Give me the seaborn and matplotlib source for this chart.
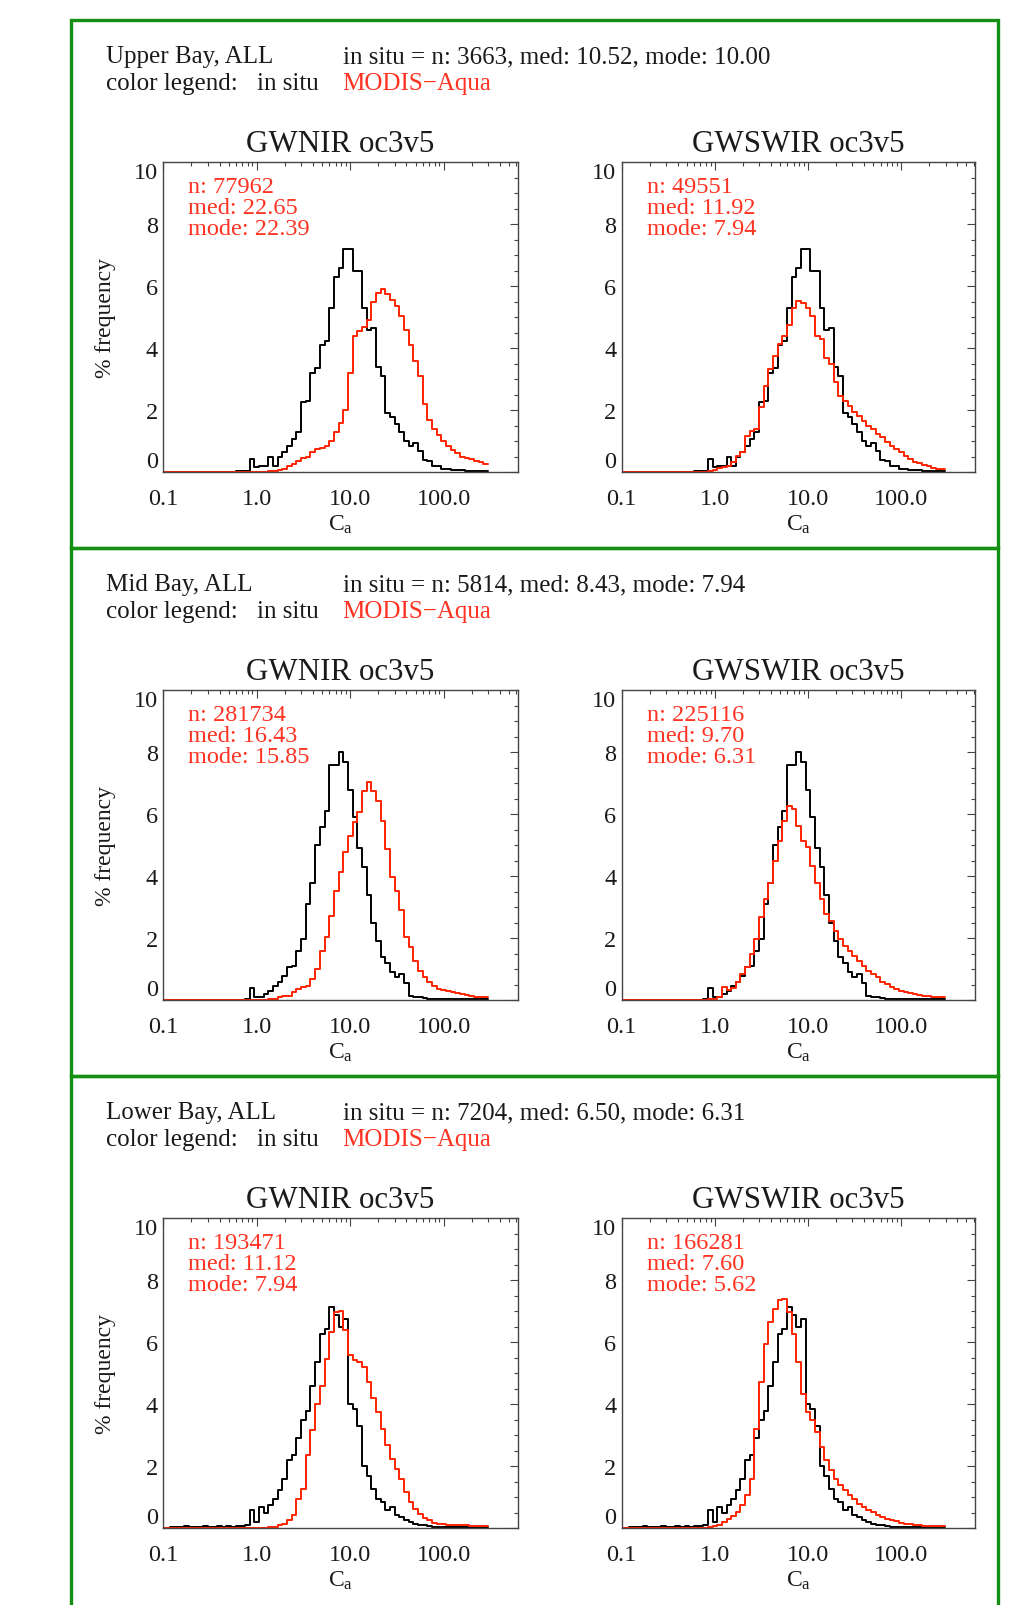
import numpy as np
import matplotlib
matplotlib.use("Agg")
import matplotlib.pyplot as plt
import seaborn as sns
from matplotlib.patches import Rectangle
from matplotlib.ticker import FixedLocator, MultipleLocator, LogLocator, NullFormatter

# ======================
# DATA  (% frequency per 0.05 log10 bin of Ca)
# ======================
log_c = np.round(np.arange(-1.0, 2.4501, 0.05), 2)   # bin centres, log10(Ca)

upper_insitu = [
    0, 0, 0, 0, 0, 0, 0, 0, 0, 0, 0, 0, 0, 0, 0, 0, 0.03, 0.05, 0.05, 0.43,
    0.16, 0.2, 0.2, 0.48, 0.2, 0.5, 0.65, 0.86, 1.07, 1.3, 2.26, 2.3, 3.2, 3.35, 4.1, 4.25, 5.3, 6.3, 6.6, 7.2,
    7.2, 6.5, 6.5, 5.3, 4.6, 4.65, 3.4, 3.1, 1.9, 1.8, 1.55, 1.3, 1.0, 0.85, 0.95, 0.7, 0.4, 0.35, 0.2, 0.2,
    0.1, 0.1, 0.08, 0.07, 0.08, 0.03, 0.03, 0.03, 0.03, 0.05]
upper_gwnir = [
    0, 0, 0, 0, 0, 0, 0, 0, 0, 0, 0, 0, 0, 0, 0, 0, 0, 0, 0, 0,
    0, 0, 0.02, 0.03, 0.04, 0.07, 0.1, 0.2, 0.27, 0.37, 0.45, 0.5, 0.65, 0.75, 0.8, 0.86, 1.0, 1.3, 1.6, 2.0,
    3.2, 4.4, 4.55, 4.7, 4.9, 5.5, 5.8, 5.9, 5.75, 5.55, 5.35, 5.05, 4.6, 4.1, 3.6, 3.1, 2.2, 1.7, 1.4, 1.2,
    1.0, 0.85, 0.72, 0.62, 0.5, 0.45, 0.42, 0.38, 0.33, 0.27]
upper_gwswir = [
    0, 0, 0, 0, 0, 0, 0, 0, 0, 0, 0, 0, 0, 0, 0, 0, 0, 0, 0.01, 0.03,
    0.09, 0.14, 0.16, 0.2, 0.32, 0.54, 0.67, 1.18, 1.34, 1.4, 2.1, 2.8, 3.33, 3.76, 4.14, 4.4, 4.75, 5.3, 5.54, 5.45,
    5.3, 5.05, 4.4, 4.3, 3.7, 3.5, 2.9, 2.47, 2.3, 2.15, 1.94, 1.83, 1.67, 1.5, 1.4, 1.24, 1.13, 0.97, 0.86, 0.75,
    0.65, 0.54, 0.43, 0.34, 0.29, 0.24, 0.19, 0.15, 0.12, 0.1]

mid_insitu = [
    0, 0, 0, 0, 0, 0, 0, 0, 0, 0, 0, 0, 0, 0, 0, 0, 0, 0, 0.03, 0.4,
    0.1, 0.12, 0.2, 0.3, 0.45, 0.6, 0.8, 1.06, 1.1, 1.6, 1.98, 3.1, 3.8, 5.0, 5.6, 6.1, 7.6, 7.6, 8.0, 7.7,
    6.8, 5.9, 4.9, 4.3, 3.4, 2.5, 1.9, 1.4, 1.2, 0.9, 0.75, 0.85, 0.55, 0.15, 0.12, 0.1, 0.08, 0.05, 0.04, 0.03,
    0.03, 0.03, 0.03, 0.03, 0.03, 0.03, 0.03, 0.03, 0.03, 0.03]
mid_gwnir = [
    0, 0, 0, 0, 0, 0, 0, 0, 0, 0, 0, 0, 0, 0, 0, 0, 0, 0, 0, 0,
    0.01, 0.01, 0.01, 0.03, 0.05, 0.1, 0.15, 0.15, 0.26, 0.37, 0.42, 0.47, 0.69, 1.0, 1.6, 2.03, 2.73, 3.54, 4.13, 4.77,
    5.31, 5.74, 6.06, 6.76, 7.03, 6.76, 6.44, 5.8, 4.88, 3.97, 3.54, 2.9, 2.03, 1.71, 1.28, 0.96, 0.74, 0.58, 0.47, 0.37,
    0.33, 0.29, 0.26, 0.23, 0.2, 0.16, 0.13, 0.12, 0.11, 0.1]
mid_gwswir = [
    0, 0, 0, 0, 0, 0, 0, 0, 0, 0, 0, 0, 0, 0, 0, 0, 0, 0.01, 0.01, 0.03,
    0.05, 0.1, 0.42, 0.33, 0.4, 0.58, 0.85, 1.06, 1.5, 1.98, 2.68, 3.27, 3.8, 4.5, 5.15, 5.8, 6.28, 6.17, 5.63, 5.15,
    4.94, 4.34, 3.8, 3.27, 2.78, 2.57, 2.25, 1.98, 1.76, 1.6, 1.44, 1.28, 1.12, 0.96, 0.85, 0.74, 0.6, 0.53, 0.42, 0.37,
    0.31, 0.26, 0.23, 0.2, 0.17, 0.15, 0.13, 0.12, 0.11, 0.1]

low_insitu = [
    0, 0.02, 0.03, 0.05, 0.03, 0.06, 0.03, 0.04, 0.03, 0.06, 0.04, 0.03, 0.07, 0.05, 0.08, 0.05, 0.07, 0.06, 0.1, 0.58,
    0.2, 0.69, 0.5, 0.74, 0.96, 1.23, 1.6, 2.2, 2.35, 2.9, 3.5, 3.8, 4.6, 5.37, 6.28, 6.44, 7.14, 6.87, 6.5, 6.76,
    4.0, 3.86, 3.3, 2.0, 1.7, 1.28, 0.96, 0.85, 0.58, 0.69, 0.42, 0.35, 0.26, 0.2, 0.15, 0.1, 0.1, 0.07, 0.05, 0.05,
    0.05, 0.04, 0.05, 0.04, 0.04, 0.03, 0.04, 0.03, 0.03, 0.03]
low_gwnir = [
    0.01, 0.01, 0.01, 0.01, 0.01, 0.01, 0.01, 0.01, 0.01, 0.01, 0.01, 0.01, 0.01, 0.01, 0.01, 0.01, 0.01, 0.01, 0.01, 0.01,
    0.02, 0.02, 0.02, 0.03, 0.05, 0.1, 0.15, 0.26, 0.42, 0.96, 1.28, 2.35, 3.16, 4.02, 4.6, 5.47, 6.33, 6.98, 7.0, 6.4,
    5.58, 5.42, 5.37, 5.2, 4.72, 4.2, 3.75, 3.2, 2.68, 2.25, 1.92, 1.6, 1.17, 0.85, 0.63, 0.47, 0.33, 0.26, 0.18, 0.15,
    0.13, 0.12, 0.11, 0.1, 0.1, 0.1, 0.09, 0.09, 0.08, 0.08]
low_gwswir = [
    0.01, 0.01, 0.01, 0.01, 0.01, 0.01, 0.01, 0.01, 0.01, 0.01, 0.01, 0.01, 0.01, 0.01, 0.01, 0.01, 0.01, 0.01, 0.02, 0.05,
    0.08, 0.1, 0.2, 0.31, 0.4, 0.53, 0.74, 1.06, 1.6, 3.2, 4.72, 5.96, 6.66, 7.09, 7.35, 7.39, 6.98, 6.28, 5.37, 4.34,
    3.75, 3.48, 3.1, 2.62, 2.19, 1.87, 1.6, 1.39, 1.23, 1.06, 0.94, 0.8, 0.69, 0.6, 0.53, 0.44, 0.37, 0.31, 0.26, 0.23,
    0.18, 0.15, 0.13, 0.11, 0.1, 0.09, 0.08, 0.07, 0.06, 0.06]

regions = ["Upper Bay, ALL", "Mid Bay, ALL", "Lower Bay, ALL"]
insitu_stats = ["n: 3663, med: 10.52, mode: 10.00",
                "n: 5814, med: 8.43, mode: 7.94",
                "n: 7204, med: 6.50, mode: 6.31"]
titles = ["GWNIR oc3v5", "GWSWIR oc3v5"]
sat_n = [["77962", "49551"], ["281734", "225116"], ["193471", "166281"]]
sat_med = [["22.65", "11.92"], ["16.43", "9.70"], ["11.12", "7.60"]]
sat_mode = [["22.39", "7.94"], ["15.85", "6.31"], ["7.94", "5.62"]]

insitu = [upper_insitu, mid_insitu, low_insitu]
modis = [[upper_gwnir, upper_gwswir], [mid_gwnir, mid_gwswir], [low_gwnir, low_gwswir]]

x_ticks = [0.1, 1.0, 10.0, 100.0]
x_ticklabels = ["0.1", "1.0", "10.0", "100.0"]
y_ticks = [0, 2, 4, 6, 8, 10]

# ======================
# STYLE
# ======================
sns.set_theme(style="white")
plt.rcParams["font.family"] = ["Liberation Serif", "DejaVu Serif"]
plt.rcParams["mathtext.fontset"] = "custom"
plt.rcParams["mathtext.rm"] = "Liberation Serif"
plt.rcParams["mathtext.it"] = "Liberation Serif:italic"

RED = "#ff2200"
RED_TXT = "#ff3322"
GREEN = "#138f13"
INK = "#1a1a1a"

W, H = 1010, 1606
fig = plt.figure(figsize=(W / 100, H / 100), dpi=100)
fig.patch.set_facecolor("white")


def fx(px):
    return px / W


def fy(py):
    return 1 - py / H


ROW_STEP = 528
AX_TOP = 163.3
AX_H = 310
AX_LEFT = [163.3, 621.7]
AX_W = [354.4, 353.3]

# green frames round each row
frame_tops = [21, 549, 1077]
for i, top in enumerate(frame_tops):
    hgt = 528 if i < 2 else 600
    fig.add_artist(Rectangle((fx(71), fy(top + hgt)), (998 - 71) / W, hgt / H,
                             transform=fig.transFigure, fill=False,
                             edgecolor=GREEN, lw=2.4, zorder=0))

edges = 10 ** np.append(log_c - 0.025, log_c[-1] + 0.025)

for r in range(3):
    off = r * ROW_STEP
    fig.text(fx(106), fy(63.3 + off), regions[r], fontsize=18, va="baseline", color=INK)
    fig.text(fx(342.7), fy(63.3 + off), "in situ = " + insitu_stats[r], fontsize=18,
             va="baseline", color=INK)
    fig.text(fx(106), fy(90 + off), "color legend:", fontsize=18, va="baseline", color=INK)
    fig.text(fx(257), fy(90 + off), "in situ", fontsize=18, va="baseline", color=INK)
    fig.text(fx(342.7), fy(90 + off), "MODIS\u2212Aqua", fontsize=18, va="baseline",
             color=RED_TXT)

    for c in range(2):
        ax = fig.add_axes([fx(AX_LEFT[c]), fy(AX_TOP + off + AX_H), AX_W[c] / W, AX_H / H])

        y_black = np.append(insitu[r], insitu[r][-1])
        y_red = np.append(modis[r][c], modis[r][c][-1])
        sns.lineplot(x=edges, y=y_black, drawstyle="steps-post", color="black", lw=1.4,
                     estimator=None, ax=ax)
        sns.lineplot(x=edges, y=y_red, drawstyle="steps-post", color=RED, lw=1.4,
                     estimator=None, ax=ax)

        ax.set_xscale("log")
        ax.set_xlim(0.1, 620)
        ax.set_ylim(0, 10)
        ax.set_xlabel("")
        ax.set_ylabel("")

        ax.xaxis.set_major_locator(FixedLocator(x_ticks))
        ax.set_xticklabels(x_ticklabels)
        ax.xaxis.set_minor_locator(LogLocator(base=10, subs=np.arange(2, 10)))
        ax.xaxis.set_minor_formatter(NullFormatter())
        ax.set_yticks(y_ticks)
        ax.set_yticklabels([str(v) for v in y_ticks])
        ax.yaxis.set_minor_locator(MultipleLocator(0.5))

        ax.tick_params(which="both", direction="in", top=True, right=True,
                       colors="#444444", labelcolor=INK, labelsize=17.5, width=0.8)
        ax.tick_params(which="major", length=5.5)
        ax.tick_params(which="minor", length=2.6)
        ax.tick_params(axis="x", which="major", pad=11.5)
        ax.tick_params(axis="y", which="major", pad=4)
        for sp in ax.spines.values():
            sp.set_color("#444444")
            sp.set_linewidth(1.0)

        ticks = ax.yaxis.get_major_ticks()
        ticks[0].label1.set_va("bottom")
        ticks[-1].label1.set_va("top")

        ax.text(0.5, 1 + 11.6 / AX_H, titles[c], transform=ax.transAxes, ha="center",
                va="baseline", fontsize=22.3, color=INK)
        ax.text(0.5, -(531 - 473.3) / AX_H, r"C$_\mathrm{a}$", transform=ax.transAxes,
                ha="center", va="baseline", fontsize=17, color=INK)
        if c == 0:
            ax.text((106 - 163.3) / AX_W[0], 0.5, "% frequency", transform=ax.transAxes,
                    rotation=90, ha="center", va="center", fontsize=17, color=INK)

        stats = ["n: " + sat_n[r][c], "med: " + sat_med[r][c], "mode: " + sat_mode[r][c]]
        for k, d in enumerate([30, 50.7, 71.7]):
            ax.text(25 / AX_W[c], 1 - d / AX_H, stats[k], transform=ax.transAxes,
                    ha="left", va="baseline", fontsize=17.5, color=RED_TXT)

fig.savefig("out.png", dpi=100, facecolor="white")
